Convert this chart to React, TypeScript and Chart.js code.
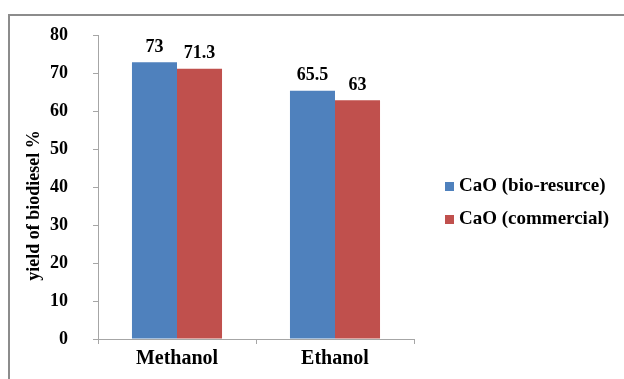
import React, { useEffect, useRef } from "react";
import { Chart, registerables } from "chart.js";

Chart.register(...registerables);

const categories = ["Methanol", "Ethanol"];
const seriesNames = ["CaO (bio-resurce)", "CaO (commercial)"];
const bioValues = [73, 65.5];
const commercialValues = [71.3, 63];
const yTicks = [0, 10, 20, 30, 40, 50, 60, 70, 80];
const seriesColors = ["#4F81BD", "#C0504D"];
const yTitle = "yield of biodiesel %        ";

const FONT = "'Liberation Serif', 'Times New Roman', serif";

const valueLabels = {
  id: "valueLabels",
  afterDatasetsDraw(chart: any) {
    const ctx = chart.ctx;
    ctx.save();
    ctx.font = `bold 18px ${FONT}`;
    ctx.fillStyle = "#000";
    ctx.textAlign = "center";
    ctx.textBaseline = "bottom";
    chart.data.datasets.forEach((ds: any, i: number) => {
      const meta = chart.getDatasetMeta(i);
      meta.data.forEach((bar: any, j: number) => {
        ctx.fillText(String(ds.data[j]), bar.x, bar.y - 6);
      });
    });
    ctx.restore();
  },
};

const sideLegend = {
  id: "sideLegend",
  afterDraw(chart: any) {
    const ctx = chart.ctx;
    ctx.save();
    ctx.font = `bold 19px ${FONT}`;
    ctx.textBaseline = "middle";
    ctx.textAlign = "left";
    const x0 = chart.chartArea.right + 31;
    chart.data.datasets.forEach((ds: any, i: number) => {
      const cy = 186 + i * 33;
      ctx.fillStyle = ds.backgroundColor;
      ctx.fillRect(x0, cy - 4, 9, 9);
      ctx.fillStyle = "#000";
      ctx.fillText(ds.label, x0 + 14, cy);
    });
    ctx.restore();
  },
};

export default function App() {
  const ref = useRef<HTMLCanvasElement | null>(null);

  useEffect(() => {
    if (!ref.current) return;
    const axisColor = "#a6a6a6";
    const chart = new Chart(ref.current, {
      type: "bar",
      data: {
        labels: categories,
        datasets: [
          { label: seriesNames[0], data: bioValues, backgroundColor: seriesColors[0] },
          { label: seriesNames[1], data: commercialValues, backgroundColor: seriesColors[1] },
        ],
      },
      options: {
        responsive: false,
        animation: false,
        devicePixelRatio: 1,
        layout: { padding: { left: 24, top: 35, right: 210, bottom: 0 } },
        datasets: { bar: { barPercentage: 1, categoryPercentage: 0.57 } },
        plugins: {
          legend: { display: false },
          tooltip: { enabled: false },
        },
        scales: {
          x: {
            afterFit: (s: any) => {
              s.height = 40;
            },
            border: { color: axisColor, width: 1 },
            grid: {
              display: true,
              drawOnChartArea: false,
              drawTicks: true,
              tickLength: 5,
              color: axisColor,
              offset: true,
            },
            ticks: {
              color: "#000",
              padding: 3,
              font: { family: FONT, size: 20, weight: "bold" },
            },
          },
          y: {
            min: 0,
            max: 80,
            afterBuildTicks: (s: any) => {
              s.ticks = yTicks.map((v) => ({ value: v }));
            },
            afterFit: (s: any) => {
              s.width = 74;
            },
            border: { color: axisColor, width: 1 },
            grid: {
              display: true,
              drawOnChartArea: false,
              drawTicks: true,
              tickLength: 5,
              color: axisColor,
            },
            ticks: {
              color: "#000",
              padding: 25,
              font: { family: FONT, size: 18, weight: "bold" },
            },
            title: {
              display: true,
              text: yTitle,
              color: "#000",
              padding: 0,
              font: { family: FONT, size: 18, weight: "bold" },
            },
          },
        },
      },
      plugins: [valueLabels, sideLegend],
    } as any);
    return () => chart.destroy();
  }, []);

  return (
    <div>
      <div
        style={{
          position: "fixed",
          left: 8,
          top: 14,
          width: 616,
          height: 365,
          borderLeft: "2px solid #8c8c8c",
          borderTop: "2px solid #8c8c8c",
          boxSizing: "border-box",
        }}
      />
      <canvas
        ref={ref}
        width={624}
        height={379}
        style={{ position: "fixed", left: 0, top: 0, width: 624, height: 379 }}
      />
    </div>
  );
}
